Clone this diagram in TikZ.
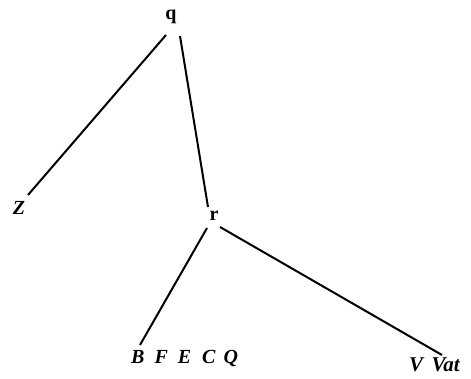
\documentclass[tikz,border=0pt]{standalone}
\usepackage{fontspec}
\setmainfont{Liberation Serif}
\begin{document}
\begin{tikzpicture}[x=1pt,y=-1pt,
  lab/.style={inner sep=1pt,font=\fontsize{20}{20}\selectfont\bfseries\itshape},
  uplab/.style={inner sep=1pt,font=\fontsize{20}{20}\selectfont\bfseries},
  edge/.style={line width=2pt}]
\useasboundingbox (0,0) rectangle (471,379);
\node[uplab] (q) at (171,17) {q};
\node[lab] (z) at (19,208) {Z};
\node[uplab] (r) at (214,216) {r};
\node[lab,anchor=base west] (b) at (130,363) {B\hspace{0.5em}F\hspace{0.5em}E\hspace{0.55em}C\hspace{0.4em}Q};
\node[lab,anchor=base west,font=\fontsize{21}{21}\selectfont\bfseries\itshape] (v) at (408,371) {V\hspace{0.4em}Vat};
\coordinate (qa) at (166,35);
\coordinate (za) at (28,195);
\coordinate (qb) at (180,36);
\coordinate (ra) at (208,207);
\coordinate (rb) at (207,228);
\coordinate (ba) at (140,345);
\coordinate (rc) at (220,227);
\coordinate (va) at (442,355);
\draw[edge] (qa) -- (za);
\draw[edge] (qb) -- (ra);
\draw[edge] (rb) -- (ba);
\draw[edge] (rc) -- (va);
\end{tikzpicture}
\end{document}
